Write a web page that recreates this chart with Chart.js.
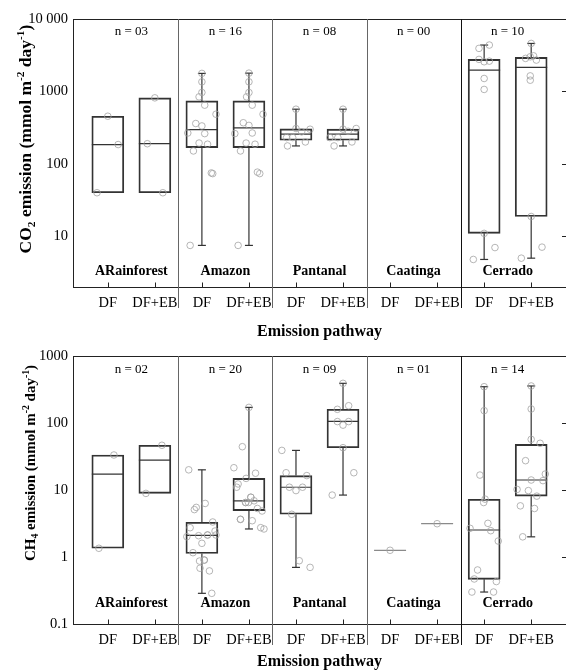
<!DOCTYPE html>
<html>
<head>
<meta charset="utf-8">
<script src="https://cdn.jsdelivr.net/npm/chart.js@4.4.0/dist/chart.umd.min.js"></script>
<style>
  html, body { margin: 0; padding: 0; background: #fff; }
  #wrap { position: relative; width: 566px; height: 670px; }
  canvas { position: absolute; left: 0; }
  #co2Chart { top: 0; }
  #ch4Chart { top: 340px; }
</style>
</head>
<body>
<div id="wrap">
  <canvas id="co2Chart" width="566" height="340"></canvas>
  <canvas id="ch4Chart" width="566" height="330"></canvas>
</div>
<script>
// Categories
const biomes = ["ARainforest", "Amazon", "Pantanal", "Caatinga", "Cerrado"];
const pathways = ["DF", "DF+EB"];
const categories = biomes.flatMap(() => pathways);

// CO2 panel (one entry per category: ARainforest DF, DF+EB, Amazon DF, ...)
const co2N = ["03", "16", "08", "00", "10"];
const co2Min = [40, 40, 7.5, 7.5, 177, 177, null, null, 4.8, 5.0];
const co2Q1 = [40, 40, 168, 168, 212, 212, null, null, 11, 18.8];
const co2Median = [185, 190, 298, 314, 257, 257, null, null, 1970, 2150];
const co2Q3 = [455, 816, 741, 741, 304, 302, null, null, 2770, 2950];
const co2Max = [455, 816, 1775, 1790, 569, 569, null, null, 4370, 4600];
const co2Points = [
  [455, 185, 40],
  [816, 190, 40],
  [1775, 1358, 968, 842, 647, 485, 361, 334, 267, 262, 194, 187, 151, 75, 73.5, 7.5],
  [1790, 1358, 968, 842, 647, 485, 370, 340, 262, 267, 194, 187, 151, 77, 73.5, 7.5],
  [569, 308, 277, 301, 231, 231, 201, 177],
  [569, 302, 282, 308, 231, 231, 201, 177],
  [],
  [],
  [3930, 4370, 2770, 2570, 2620, 1510, 1066, 11, 7.0, 4.8],
  [4600, 2860, 3010, 2710, 1640, 1430, 18.8, 7.1, 5.0, 3100],
];
// horizontal jitter of each point, in category units
const co2Jitter = [
  [0, 0.22, -0.23],
  [0, -0.16, 0.17],
  [0, 0, 0, -0.06, 0.06, 0.3, -0.13, 0, -0.3, 0.06, -0.06, 0.12, -0.18, 0.2, 0.23, -0.25],
  [0, 0, 0, -0.05, 0.07, 0.3, -0.12, 0, -0.3, 0.07, -0.06, 0.13, -0.18, 0.18, 0.23, -0.23],
  [0, 0, 0.12, 0.3, -0.2, -0.07, 0.2, -0.18],
  [0, 0, 0.11, 0.28, -0.28, -0.11, 0.19, -0.19],
  [],
  [],
  [-0.11, 0.11, -0.11, 0, 0.11, 0, 0, 0, 0.23, -0.23],
  [0, -0.12, -0.02, 0.11, -0.02, -0.02, 0, 0.23, -0.21, 0.05],
];
const co2Ticks = [10, 100, 1000, 10000];
const co2TickLabels = ["10", "100", "1000", "10 000"];

// CH4 panel
const ch4N = ["02", "20", "09", "01", "14"];
const ch4Min = [1.35, 8.9, 0.287, 2.62, 0.70, 8.4, 1.26, 3.14, 0.30, 2.0];
const ch4Q1 = [1.35, 8.9, 1.13, 4.92, 4.34, 42.8, 1.26, 3.14, 0.464, 8.1];
const ch4Median = [17.3, 28, 2.1, 6.9, 11.0, 106, 1.26, 3.14, 2.53, 14.1];
const ch4Q3 = [33.3, 46.5, 3.3, 14.9, 16.4, 160, 1.26, 3.14, 7.26, 48];
const ch4Max = [33.3, 46.5, 20, 171, 39, 391, 1.26, 3.14, 348, 357];
const ch4Points = [
  [33.3, 1.35],
  [46.5, 8.9],
  [20, 5.5, 5.1, 6.3, 3.33, 2.74, 2.44, 2.01, 2.08, 2.13, 2.13, 1.6, 1.16, 0.87, 0.9, 0.68, 0.62, 0.287, 2.13, 0.9],
  [171, 44.3, 21.5, 17.8, 14.9, 12.3, 11.0, 7.8, 6.9, 6.5, 6.5, 5.3, 4.86, 3.65, 3.48, 2.74, 2.62, 7.8, 6.5, 3.65],
  [39, 18.1, 16.4, 11.0, 9.8, 11.0, 4.34, 0.88, 0.70],
  [391, 160, 181, 105, 93, 105, 42.8, 18.1, 8.4],
  [1.26],
  [3.14],
  [348, 153, 16.7, 7.3, 6.5, 3.18, 2.47, 2.68, 1.73, 0.64, 0.47, 0.43, 0.30, 0.30],
  [357, 162, 57, 49.8, 27.4, 17.3, 14.1, 13.8, 10.2, 9.8, 8.1, 5.8, 5.3, 2.0],
];
const ch4Jitter = [
  [0.13, -0.19],
  [0.15, -0.19],
  [-0.28, -0.12, -0.16, 0.07, 0.23, -0.25, 0.28, -0.32, -0.07, 0.12, 0.3, 0, -0.19, -0.05, 0.05, -0.04, 0.16, 0.21, 0.12, 0.05],
  [0, -0.14, -0.32, 0.14, -0.06, -0.23, -0.26, 0.04, 0.11, -0.07, -0.01, 0.18, 0.28, -0.18, 0.07, 0.25, 0.32, 0.04, -0.07, -0.18],
  [-0.3, -0.21, 0.23, -0.14, 0, 0.14, -0.09, 0.07, 0.3],
  [0, -0.12, 0.12, -0.12, 0, 0.12, 0, 0.23, -0.23],
  [0],
  [0],
  [0, 0, -0.09, 0.02, -0.01, 0.08, 0.14, -0.3, 0.3, -0.14, -0.21, 0.26, -0.26, 0.2],
  [0, 0, 0, 0.19, -0.12, 0.3, 0, 0.25, -0.3, -0.06, 0.12, -0.23, 0.07, -0.18],
];
const ch4Ticks = [0.1, 1, 10, 100, 1000];
const ch4TickLabels = ["0.1", "1", "10", "100", "1000"];

const SERIF = '"Liberation Serif", "Times New Roman", serif';
const BOX_WIDTH = 32;
const CAP_WIDTH = 8;

function makeBoxPlugin(p) {
  const line = (ctx, x0, y0, x1, y1) => {
    ctx.beginPath();
    ctx.moveTo(x0, y0);
    ctx.lineTo(x1, y1);
    ctx.stroke();
  };

  return {
    id: "boxplot",
    // whiskers and medians, drawn under the boxes and points
    beforeDatasetsDraw(chart) {
      const { ctx, scales: { x, y } } = chart;
      ctx.save();
      p.median.forEach((m, i) => {
        if (m === null) return;
        const cx = x.getPixelForValue(i);
        const single = p.q1[i] === p.q3[i];
        ctx.strokeStyle = single ? "#8a8a8a" : "#333";
        ctx.lineWidth = 1.2;
        [[p.q3[i], p.max[i]], [p.q1[i], p.min[i]]].forEach(([from, to]) => {
          if (from === to) return;
          const y0 = y.getPixelForValue(from);
          const y1 = y.getPixelForValue(to);
          line(ctx, cx, y0, cx, y1);
          line(ctx, cx - CAP_WIDTH / 2, y1, cx + CAP_WIDTH / 2, y1);
        });
        const ym = y.getPixelForValue(m);
        line(ctx, cx - BOX_WIDTH / 2, ym, cx + BOX_WIDTH / 2, ym);
      });
      ctx.restore();
    },
    afterDraw(chart) {
      const { ctx, chartArea: a, scales: { x, y } } = chart;
      ctx.save();
      ctx.lineWidth = 1;
      ctx.strokeStyle = "#222";
      line(ctx, a.left, a.top + 0.5, a.right, a.top + 0.5);

      // inward ticks
      categories.forEach((_, i) => {
        const px = Math.round(x.getPixelForValue(i)) + 0.5;
        line(ctx, px, a.bottom, px, a.bottom - 4.5);
      });
      p.ticks.forEach((v) => {
        const py = Math.round(y.getPixelForValue(v)) + 0.5;
        line(ctx, a.right - 4, py, a.right, py);
      });

      // biome separators
      for (let g = 1; g < biomes.length; g++) {
        const px = Math.round(x.getPixelForValue(g * 2 - 0.5)) + 0.5;
        ctx.strokeStyle = g === biomes.length - 1 ? "#111" : "#666";
        line(ctx, px, a.top, px, a.bottom + 21);
      }

      // biome names and sample sizes
      ctx.fillStyle = "#000";
      ctx.textAlign = "center";
      ctx.textBaseline = "middle";
      biomes.forEach((b, g) => {
        const cx = x.getPixelForValue(g * 2 + 0.5);
        ctx.font = `bold 14px ${SERIF}`;
        ctx.fillText(b, cx, a.bottom - p.biomeOffset);
        ctx.font = `13px ${SERIF}`;
        ctx.fillText("n = " + p.n[g], cx, a.top + p.nOffset);
      });

      // rotated y title with sub/superscripts
      const size = p.titleSize;
      const parts = p.title.map(([t, kind]) => {
        const s = kind === "n" ? size : size * 0.65;
        ctx.font = `bold ${s}px ${SERIF}`;
        return { t, kind, s, w: ctx.measureText(t).width };
      });
      const total = parts.reduce((acc, q) => acc + q.w, 0);
      ctx.translate(p.titleX, (a.top + a.bottom) / 2 + p.titleShift);
      ctx.rotate(-Math.PI / 2);
      ctx.textAlign = "left";
      ctx.textBaseline = "alphabetic";
      let tx = -total / 2;
      parts.forEach((q) => {
        ctx.font = `bold ${q.s}px ${SERIF}`;
        const dy = q.kind === "sup" ? -size * 0.4 : q.kind === "sub" ? size * 0.2 : 0;
        ctx.fillText(q.t, tx, size * 0.35 + dy);
        tx += q.w;
      });
      ctx.restore();
    },
  };
}

function buildPanel(canvasId, p) {
  const ctx = document.getElementById(canvasId).getContext("2d");

  const boxData = [];
  p.q1.forEach((q, i) => {
    if (q !== null) boxData.push({ x: i, y: [q, p.q3[i]] });
  });
  const pointData = [];
  p.points.forEach((vals, i) =>
    vals.forEach((v, k) => pointData.push({ x: i + p.jitter[i][k], y: v }))
  );

  return new Chart(ctx, {
    type: "scatter",
    data: {
      datasets: [
        {
          type: "bar",
          data: boxData,
          order: 2,
          grouped: false,
          barThickness: BOX_WIDTH,
          backgroundColor: "rgba(0,0,0,0)",
          borderColor: "#333",
          borderWidth: 1.2,
          borderSkipped: false,
        },
        {
          type: "scatter",
          data: pointData,
          order: 1,
          pointRadius: 3.3,
          pointBorderWidth: 0.8,
          pointBorderColor: "#a3a3a3",
          pointBackgroundColor: "rgba(0,0,0,0)",
        },
      ],
    },
    options: {
      responsive: false,
      animation: false,
      events: [],
      layout: { autoPadding: false, padding: { top: p.top, left: 0, right: 0, bottom: 0 } },
      plugins: { legend: { display: false }, tooltip: { enabled: false } },
      scales: {
        x: {
          type: "linear",
          offset: false,
          min: -0.74,
          max: 9.74,
          bounds: "data",
          afterBuildTicks: (s) => {
            s.ticks = categories.map((_, i) => ({ value: i }));
          },
          afterFit: (s) => {
            s.height = p.xAxisHeight;
            s.paddingLeft = 0;
            s.paddingRight = 0;
          },
          grid: { display: false, drawTicks: false, offset: false },
          border: { display: true, color: "#222", width: 1 },
          ticks: {
            autoSkip: false,
            maxRotation: 0,
            padding: 7,
            color: "#000",
            font: { family: SERIF, size: 14.5 },
            callback: (v, i) => categories[i],
          },
          title: {
            display: true,
            text: "Emission pathway",
            color: "#000",
            font: { family: SERIF, size: 16, weight: "bold", lineHeight: 1 },
            padding: 0,
          },
        },
        y: {
          type: "logarithmic",
          min: p.yMin,
          max: p.yMax,
          bounds: "data",
          afterBuildTicks: (s) => {
            s.ticks = p.ticks.map((v) => ({ value: v }));
          },
          afterFit: (s) => {
            s.width = 73;
          },
          grid: { display: false, drawTicks: false },
          border: { display: true, color: "#222", width: 1 },
          ticks: {
            padding: 5,
            color: "#000",
            font: { family: SERIF, size: 14.5 },
            callback: (v, i) => p.tickLabels[i],
          },
        },
      },
    },
    plugins: [makeBoxPlugin(p)],
  });
}

buildPanel("co2Chart", {
  min: co2Min, q1: co2Q1, median: co2Median, q3: co2Q3, max: co2Max,
  points: co2Points, jitter: co2Jitter, n: co2N,
  ticks: co2Ticks, tickLabels: co2TickLabels,
  yMin: 2, yMax: 10000,
  top: 19, xAxisHeight: 53,
  biomeOffset: 16, nOffset: 13,
  titleX: 25, titleShift: -14, titleSize: 17.5,
  title: [["CO", "n"], ["2", "sub"], [" emission (mmol m", "n"], ["-2", "sup"], [" day", "n"], ["-1", "sup"], [")", "n"]],
});

buildPanel("ch4Chart", {
  min: ch4Min, q1: ch4Q1, median: ch4Median, q3: ch4Q3, max: ch4Max,
  points: ch4Points, jitter: ch4Jitter, n: ch4N,
  ticks: ch4Ticks, tickLabels: ch4TickLabels,
  yMin: 0.1, yMax: 1000,
  top: 16, xAxisHeight: 46,
  biomeOffset: 21, nOffset: 14,
  titleX: 30, titleShift: -27, titleSize: 15,
  title: [["CH", "n"], ["4", "sub"], [" emission (mmol m", "n"], ["-2", "sup"], [" day", "n"], ["-1", "sup"], [")", "n"]],
});
</script>
</body>
</html>
